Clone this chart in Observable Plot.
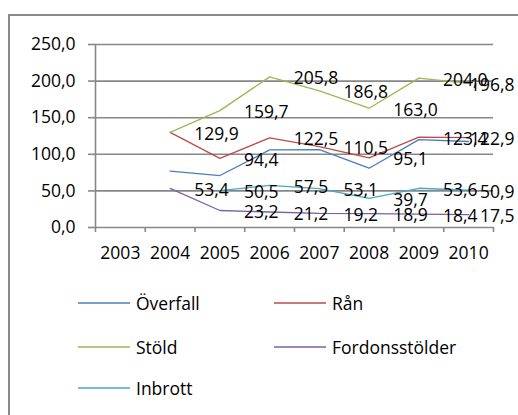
<!DOCTYPE html>
<html><head><meta charset="utf-8">
<script src="https://cdn.jsdelivr.net/npm/d3@7"></script>
<script src="https://cdn.jsdelivr.net/npm/@observablehq/plot@0.6"></script>
<style>
html,body{margin:0;padding:0;background:#fff;overflow:hidden;width:518px;height:415px;}
#frame{position:absolute;left:8px;top:14px;width:600px;height:500px;border:2px solid #8a8a8a;box-sizing:border-box;}
#chart{position:absolute;left:0;top:0;}
#legend{position:absolute;left:0;top:0;width:518px;height:415px;font-family:'Open Sans',sans-serif;font-size:17.5px;color:#000;}
.item{position:absolute;display:flex;align-items:center;height:24px;white-space:nowrap;}
.item svg{margin-right:6px;}
</style></head><body>
<div id="frame"></div><div id="chart"></div><div id="legend"></div>
<script>
// ---- data ----
const years = [2003, 2004, 2005, 2006, 2007, 2008, 2009, 2010];
const seriesNames = ["Överfall", "Rån", "Stöld", "Fordonsstölder", "Inbrott"];
const overfall = [null, 77, 71, 106, 106.5, 81, 120, 117.5];
const ran = [null, 129.9, 94.4, 122.5, 110.5, 95.1, 123.4, 122.9];
const stold = [null, 129.9, 159.7, 205.8, 186.8, 163.0, 204.0, 196.8];
const fordon = [null, 53.4, 23.2, 21.2, 19.2, 18.9, 18.4, 17.5];
const inbrott = [null, null, 50.5, 57.5, 53.1, 39.7, 53.6, 50.9];
const yTicks = [0, 50, 100, 150, 200, 250];
const colors = ["#4A7EBB", "#BE4B48", "#98B954", "#7D60A0", "#46AAC5"];
const labelled = [false, true, true, true, true];

const seriesValues = [overfall, ran, stold, fordon, inbrott];
const rows = [];
seriesNames.forEach((name, i) => {
  years.forEach((yr, j) => rows.push({series: name, year: yr, value: seriesValues[i][j]}));
});
const fmt = d => d.toFixed(1).replace(".", ",");
const seen = new Set();
const labels = rows.filter(r => {
  if (r.value == null) return false;
  if (!labelled[seriesNames.indexOf(r.series)]) return false;
  const k = r.year + "|" + fmt(r.value);
  if (seen.has(k)) return false;
  seen.add(k);
  return true;
});
const lastYear = years[years.length - 1];
const boundaries = years.map(y => y - 0.5).concat([lastYear + 0.5]);
const grid = "#878787";

const chart = Plot.plot({
  width: 518, height: 270,
  marginLeft: 95, marginRight: 25, marginTop: 44, marginBottom: 43,
  style: {fontFamily: "'Open Sans', sans-serif", fontSize: "17.5px", color: "#000", background: "transparent", overflow: "visible"},
  x: {domain: [years[0] - 0.5, lastYear + 0.5]},
  y: {domain: [0, 250]},
  color: {domain: seriesNames, range: colors},
  marks: [
    Plot.ruleY(yTicks, {stroke: grid, strokeWidth: 1.6}),
    Plot.ruleX([years[0] - 0.5], {stroke: grid, strokeWidth: 1.6}),
    Plot.axisY({ticks: yTicks, tickSize: 7, tickPadding: 13, tickFormat: fmt, stroke: grid, strokeWidth: 1.6, strokeOpacity: 1, label: null}),
    Plot.axisX({ticks: boundaries, tickSize: 5, tickFormat: () => "", stroke: grid, strokeWidth: 1.6, strokeOpacity: 1, label: null}),
    Plot.axisX({ticks: years, tickSize: 0, tickPadding: 19, tickFormat: d => String(d), label: null}),
    Plot.line(rows, {x: "year", y: "value", z: "series", stroke: "series", strokeWidth: 1.3}),
    Plot.text(labels.filter(d => d.year !== lastYear), {x: "year", y: "value", text: d => fmt(d.value), textAnchor: "start", dx: 24, dy: 2, fill: "#000"}),
    Plot.text(labels.filter(d => d.year === lastYear), {x: "year", y: "value", text: d => fmt(d.value), textAnchor: "end", dx: 46, dy: 2, fill: "#000"})
  ]
});
document.getElementById("chart").appendChild(chart);

// ---- legend ----
const legend = document.getElementById("legend");
const colX = [78, 274];
const rowY = [303, 347, 388];
seriesNames.forEach((name, i) => {
  const el = document.createElement("div");
  el.className = "item";
  el.style.left = colX[i % 2] + "px";
  el.style.top = (rowY[Math.floor(i / 2)] - 12) + "px";
  el.innerHTML = `<svg width="52" height="4"><line x1="0" x2="52" y1="2" y2="2" stroke="${colors[i]}" stroke-width="1.5"/></svg><span>${name}</span>`;
  legend.appendChild(el);
});
</script>
</body></html>
